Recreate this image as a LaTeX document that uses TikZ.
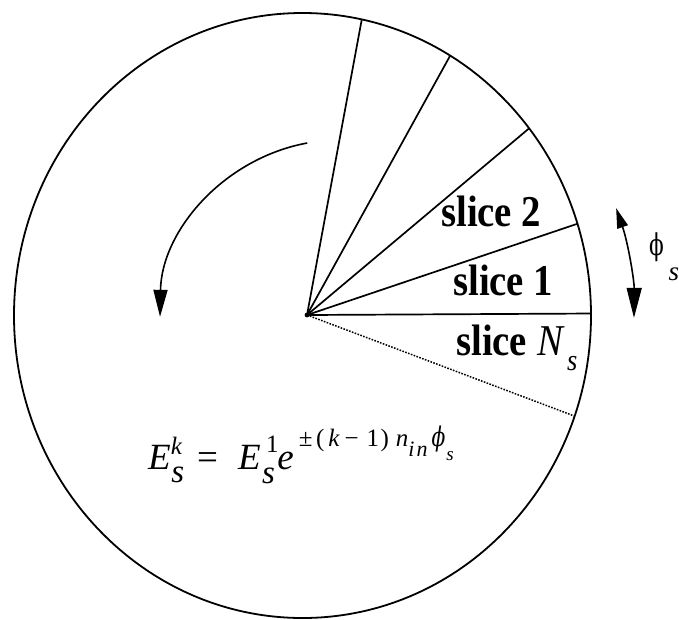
\documentclass[tikz,border=0pt]{standalone}
\usepackage{fontspec}
\usepackage{graphicx}
\setmainfont{Liberation Serif}
\newfontfamily\phifont{DejaVu Serif}
\usetikzlibrary{arrows.meta,intersections}
\newcommand\fsz[1]{\fontsize{#1}{#1}\selectfont}
\begin{document}
\begin{tikzpicture}[x=1pt,y=1pt,
  outline/.style={line width=1.8pt},
  radial/.style={line width=1.7pt},
  dotradial/.style={line width=1.5pt, dash pattern=on 1.6pt off 1.4pt},
  rotarrow/.style={line width=1.6pt, -{Triangle[length=27pt,width=14pt]}},
  phiarrow/.style={line width=1.6pt, {Triangle[length=20pt,width=11pt]}-{Triangle[length=30pt,width=15pt]}},
  slicelabel/.style={anchor=base west, inner sep=0pt, font=\fsz{44}\bfseries},
  plain/.style={inner sep=0pt}
]
\useasboundingbox (0,0) rectangle (679,-619);
\coordinate (C) at (302.5,-315.5);
\coordinate (O) at (307,-315);
\draw[outline, name path=rim] (C) ellipse [x radius=288.5, y radius=302.5];
\foreach \a/\n in {0.3/P0, 18.65/P1, 40.05/P2, 61.1/P3, 79.5/P4, -20.7/Pd} {
  \path[name path=ray] (O) -- ++(\a:400);
  \path[name intersections={of=rim and ray, by=\n}];
}
\draw[radial] (O) -- (P0);
\draw[radial] (O) -- (P1);
\draw[radial] (O) -- (P2);
\draw[radial] (O) -- (P3);
\draw[radial] (O) -- (P4);
\draw[dotradial] (O) -- (Pd);
\fill (O) circle (2.4pt);
% rotation arrow
\coordinate (R0) at (307.2,-143);
\draw[rotarrow] (R0) arc[start angle=100.5, end angle=179, radius=180];
% phi_s arrow
\path (C) ++(18.9:331.5) coordinate (F0);
\draw[phiarrow] (F0) arc[start angle=18.9, end angle=-0.4, radius=331.5];
% labels
\node[slicelabel] (s2) at (441,-226) {\scalebox{0.88}[1]{slice 2}};
\node[slicelabel] (s1) at (453,-295) {\scalebox{0.88}[1]{slice 1}};
\node[slicelabel] (sN) at (456,-355) {\scalebox{0.88}[1]{slice\hspace{12pt}{\mdseries\itshape N}\hspace{4pt}\raisebox{-15pt}{\fsz{30}\mdseries\itshape s}}};
\node[plain] (phi) at (656.5,-247.5) {\scalebox{0.72}[1]{\phifont\fsz{30}\symbol{"03D5}}};
\node[plain, anchor=base west] (phis) at (668.5,-280) {\fsz{27}\itshape s};
% formula
\node[plain, anchor=base west] (eq) at (148,-469) {\fsz{37}\itshape E\rlap{\raisebox{15pt}{\fsz{25}k}}\kern0.5pt\raisebox{-13pt}{\fsz{33}s}\hspace{13pt}{\upshape =}\hspace{20pt}E\rlap{\kern5.5pt\raisebox{17pt}{\fsz{25}\upshape 1}}\kern1.5pt\raisebox{-14pt}{\fsz{33}s}\kern2.5pt e\kern5pt\raisebox{23pt}{\fsz{25}{\upshape ±}\kern3.5pt{\upshape (}\kern4pt k\kern5pt{\upshape −}\kern8pt{\upshape 1}\kern1.5pt{\upshape )}\kern7pt n\raisebox{-10pt}{\fsz{22}i\kern2pt n}\kern4pt{\phifont\scalebox{0.75}[1]{\fsz{27}\symbol{"03D5}}}\kern1pt\raisebox{-14pt}{\fsz{19}s}}};
\end{tikzpicture}
\end{document}
